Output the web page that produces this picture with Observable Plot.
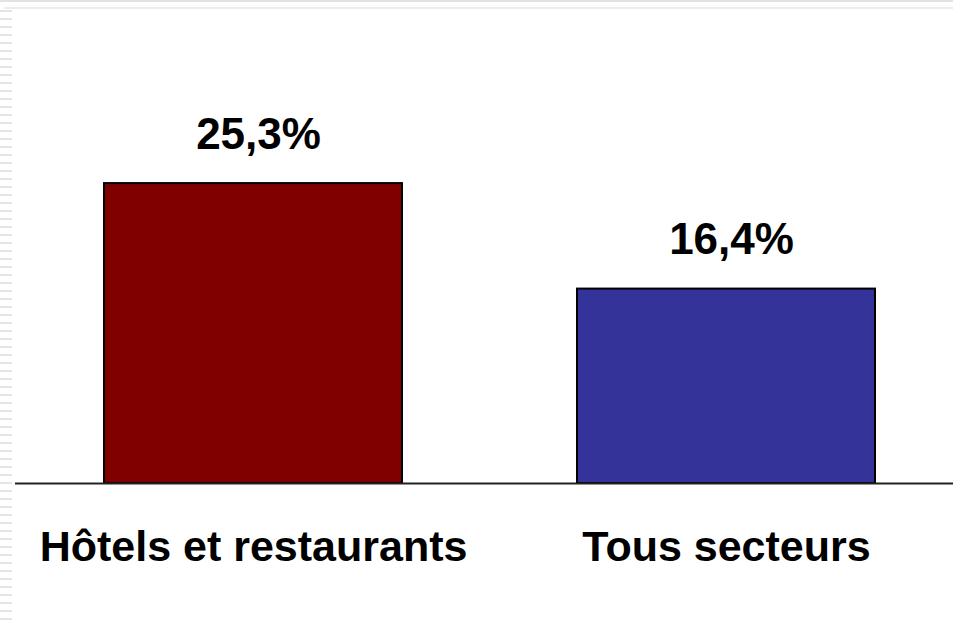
<!DOCTYPE html>
<html>
<head>
<meta charset="utf-8">
<script src="https://cdn.jsdelivr.net/npm/d3@7"></script>
<script src="https://cdn.jsdelivr.net/npm/@observablehq/plot@0.6"></script>
<style>
  html, body { margin: 0; padding: 0; background: #fff; }
  #wrap { position: relative; width: 953px; height: 621px; overflow: hidden; }
  #topline1 { position: absolute; left: 0; top: 0; width: 953px; height: 2px; background: #e2e2e2; }
  #topline2 { position: absolute; left: 4px; top: 7px; width: 949px; height: 2px; background: #ececec; }
  #leftdash { position: absolute; left: 0; top: 10px; width: 12px; height: 611px;
    background: repeating-linear-gradient(to bottom, #e4e4e4 0px, #e4e4e4 2px, transparent 2px, transparent 8px); }
  #chart { position: absolute; left: 0; top: 0; }
</style>
</head>
<body>
<div id="wrap">
  <div id="topline1"></div>
  <div id="topline2"></div>
  <div id="leftdash"></div>
  <div id="chart"></div>
</div>
<script>
const categories = ["Hôtels et restaurants", "Tous secteurs"];
const values = [25.3, 16.4];
const valueLabels = ["25,3%", "16,4%"];
const colors = ["#800000", "#333399"];

const data = categories.map((c, i) => ({category: c, value: values[i], label: valueLabels[i], color: colors[i]}));

const chart = Plot.plot({
  width: 953,
  height: 621,
  marginTop: 10,
  marginBottom: 138,
  marginLeft: 15,
  marginRight: 0,
  style: {fontFamily: "'Liberation Sans', Arial, sans-serif", background: "transparent"},
  x: {domain: categories, range: [26, 953], paddingInner: 0.369, paddingOuter: 0.1624, label: null},
  y: {domain: [0, 39.9], axis: null},
  marks: [
    Plot.barY(data, {x: "category", y: "value", fill: "color", stroke: "#000", strokeWidth: 2}),
    Plot.ruleY([0], {stroke: "#222", strokeWidth: 2}),
    Plot.text(data, {x: "category", y: "value", text: "label", lineAnchor: "bottom", dy: -35, dx: 5,
      fontSize: 44, fontWeight: "bold", fill: "#000"}),
    Plot.axisX({tickSize: 0, tickPadding: 47, fontSize: 43, fontWeight: "bold", label: null, color: "#000"})
  ]
});
document.getElementById("chart").appendChild(chart);
</script>
</body>
</html>
